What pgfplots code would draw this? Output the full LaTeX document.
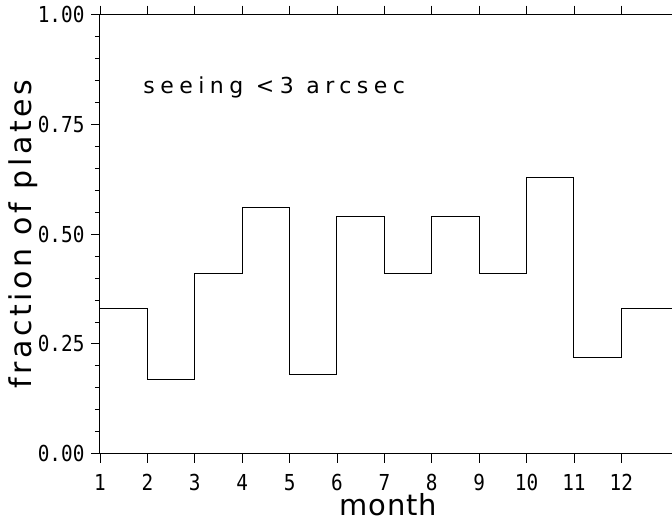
\documentclass[border=0pt]{standalone}
\usepackage{fontspec}
\setmainfont{DejaVu Sans}
\newfontfamily\tickfont[FakeStretch=0.88]{DejaVu Sans Mono}
\newfontfamily\labfont[LetterSpace=12]{DejaVu Sans}
\newfontfamily\monthfont[LetterSpace=3]{DejaVu Sans}
\newfontfamily\annfont[LetterSpace=25]{DejaVu Sans}
\usepackage{pgfplots}
\pgfplotsset{compat=1.18}
\usetikzlibrary{calc}
\begin{document}
\begin{tikzpicture}
\begin{axis}[name=ax, scale only axis, width=573.5pt, height=439pt,
  xmin=1, xmax=13.1, ymin=0, ymax=1,
  axis line style={line width=1pt},
  xtick={1,...,12}, ytick={0,0.25,0.5,0.75,1},
  ytick pos=left,
  minor y tick num=4,
  tick align=outside,
  major tick length=9pt, minor tick length=5pt,
  major tick style={line width=0.9pt, black},
  minor tick style={line width=0.9pt, black},
  xticklabel pos=lower,
  /pgf/number format/assume math mode=true,
  ticklabel style={font=\tickfont\fontsize{22}{22}\selectfont},
  yticklabel style={xshift=-3pt, /pgf/number format/.cd, fixed, fixed zerofill, precision=2},
  xticklabel style={yshift=-8pt},
  xlabel={month}, ylabel={fraction of plates},
  every axis x label/.style={at={(axis description cs:0.503,-0.116)}, anchor=center, font=\monthfont\fontsize{29}{29}\selectfont},
  every axis y label/.style={at={(axis description cs:-0.134,0.5)}, anchor=center, rotate=90, font=\labfont\fontsize{30}{30}\selectfont},
]
\addplot[const plot, black, line width=1pt] coordinates {
(1,0.33) (2,0.17) (3,0.41) (4,0.56) (5,0.18) (6,0.54) (7,0.41) (8,0.54) (9,0.41) (10,0.63) (11,0.22) (12,0.33) (13.1,0.33)};
\node[anchor=base west, font=\annfont\fontsize{22}{22}\selectfont] at (axis cs:1.84,0.82) {seeing <3 arcsec};
\end{axis}
\pgfresetboundingbox
\path ($(ax.south west)+(-100pt,-68.3pt)$) rectangle ($(ax.south west)+(572pt,453.7pt)$);
\end{tikzpicture}
\end{document}
